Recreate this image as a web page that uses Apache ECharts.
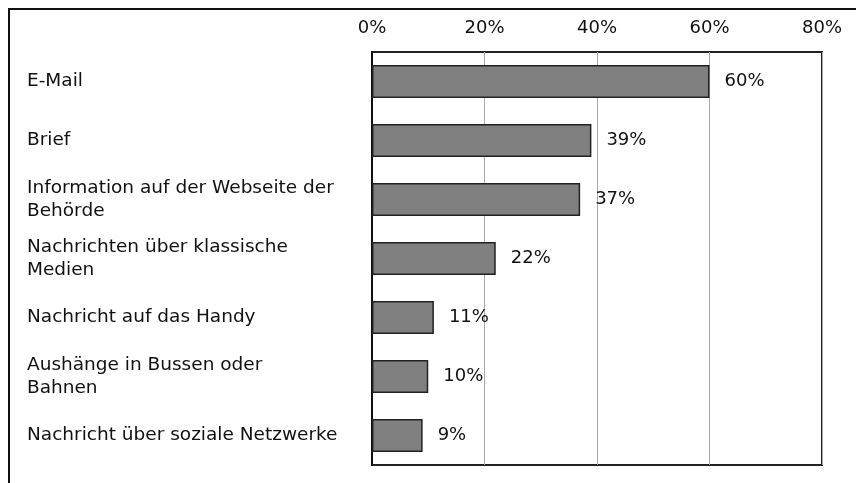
<!DOCTYPE html>
<html>
<head>
<meta charset="utf-8">
<script src="https://cdn.jsdelivr.net/npm/echarts@6/dist/echarts.min.js"></script>
<style>
  html, body { margin: 0; padding: 0; background: #fff; }
  #chart { width: 856px; height: 483px; }
</style>
</head>
<body>
<div id="chart"></div>
<script>
// categories top to bottom
var categories = [
    'E-Mail',
    'Brief',
    'Information auf der Webseite der\nBehörde',
    'Nachrichten über klassische\nMedien',
    'Nachricht auf das Handy',
    'Aushänge in Bussen oder\nBahnen',
    'Nachricht über soziale Netzwerke'
];
var values = [60, 39, 37, 22, 11, 10, 9];
var tickValues = [0, 20, 40, 60, 80];

var fontFam = '"DejaVu Sans", sans-serif';

var myChart = echarts.init(document.getElementById('chart'), null, {renderer: 'canvas'});
var option = {
    animation: false,
    backgroundColor: '#fff',
    grid: {
        left: 372, top: 52, width: 450, height: 413,
        show: true,
        borderColor: '#222',
        borderWidth: 2,
        containLabel: false
    },
    xAxis: {
        type: 'value',
        position: 'top',
        min: tickValues[0],
        max: tickValues[tickValues.length - 1],
        interval: 20,
        axisLine: {show: false},
        axisTick: {show: false},
        axisLabel: {
            formatter: '{value}%',
            color: '#111',
            fontSize: 18,
            fontFamily: fontFam,
            margin: 15
        },
        splitLine: {lineStyle: {color: '#aaa', width: 1}}
    },
    yAxis: {
        type: 'category',
        inverse: true,
        data: categories,
        axisLine: {show: true, lineStyle: {color: '#111', width: 2}},
        axisTick: {show: false},
        axisLabel: {
            align: 'left',
            margin: 345,
            color: '#111',
            fontSize: 18.5,
            lineHeight: 23,
            fontFamily: fontFam
        }
    },
    series: [{
        type: 'bar',
        data: values,
        barCategoryGap: '44%',
        itemStyle: {color: '#808080', borderColor: '#222', borderWidth: 1.5},
        label: {
            show: true,
            position: 'right',
            distance: 15,
            formatter: '{c}%',
            color: '#111',
            fontSize: 18,
            fontFamily: fontFam
        }
    }],
    graphic: [{
        type: 'polyline',
        shape: {points: [[9, 483], [9, 9], [856, 9]]},
        style: {stroke: '#111', lineWidth: 2, fill: null}
    }]
};
myChart.setOption(option);
</script>
</body>
</html>
